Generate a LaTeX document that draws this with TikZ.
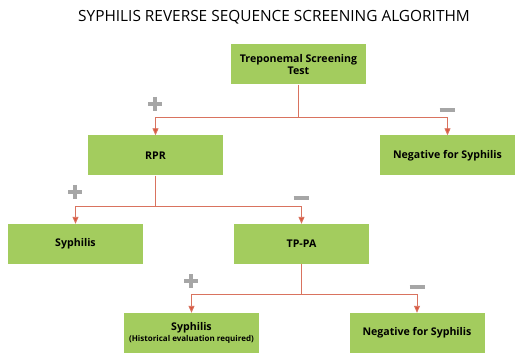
\documentclass[tikz,border=0pt]{standalone}
\usepackage{fontspec}
\setmainfont{Open Sans}
\usetikzlibrary{arrows.meta,calc}
\definecolor{boxgreen}{HTML}{A3CC5E}
\definecolor{linered}{HTML}{D9735F}
\definecolor{arrred}{HTML}{D9573F}
\definecolor{signgray}{HTML}{A6A6A6}
\tikzset{
  box/.style={fill=boxgreen, draw=none, minimum width=135pt, minimum height=40pt, inner sep=0pt, align=center, font=\bfseries\fontsize{10.6}{12}\selectfont, text=black},
  conn/.style={draw=linered, line width=0.9pt},
  arr/.style={conn, -{Triangle[length=7pt,width=6pt,fill=arrred]}},
  sign/.style={draw=signgray, line width=3.5pt}
}
\newcommand{\plussign}[1]{\draw[sign] ($(#1)+(-7,0)$) -- ($(#1)+(7,0)$); \draw[sign] ($(#1)+(0,-7)$) -- ($(#1)+(0,7)$);}
\newcommand{\minussign}[1]{\draw[sign] ($(#1)+(-7.5,0)$) -- ($(#1)+(7.5,0)$);}
\begin{document}
\begin{tikzpicture}[x=1pt,y=-1pt]
\path[fill=white] (0,0) rectangle (523,361);
\useasboundingbox (0,0) rectangle (523,361);
\node (title) at (274,17) {\fontsize{15.4}{17}\selectfont SYPHILIS REVERSE SEQUENCE SCREENING ALGORITHM};
\node[box] (tst) at (298.5,64.5) {Treponemal Screening\\Test};
\node[box] (rpr) at (155.5,155.5) {RPR};
\node[box] (neg1) at (447.5,155.5) {Negative for Syphilis};
\node[box] (syp) at (75.5,244) {Syphilis};
\node[box] (tppa) at (301.5,244) {TP-PA};
\node[box, font=\bfseries\fontsize{10.6}{11}\selectfont] (syp2) at (191.5,333) {Syphilis\\{\fontsize{8}{9}\selectfont (Historical evaluation required)}};
\node[box] (neg2) at (417,333) {Negative for Syphilis};
\coordinate (j1) at (298.5,117);
\coordinate (j2) at (155.5,206);
\coordinate (j3) at (301.5,294);
\draw[conn] (tst.south) -- (j1);
\draw[arr] (j1) -| (rpr.north);
\draw[arr] (j1) -| (neg1.north);
\draw[conn] (rpr.south) -- (j2);
\draw[arr] (j2) -| (syp.north);
\draw[arr] (j2) -| (tppa.north);
\draw[conn] (tppa.south) -- (j3);
\draw[arr] (j3) -| (syp2.north);
\draw[arr] (j3) -| (neg2.north);
\coordinate (p1) at (155,104);
\coordinate (m1) at (447,110);
\coordinate (p2) at (75,192);
\coordinate (m2) at (301,198);
\coordinate (p3) at (191,281);
\coordinate (m3) at (417,287);
\plussign{p1}\minussign{m1}
\plussign{p2}\minussign{m2}
\plussign{p3}\minussign{m3}
\end{tikzpicture}
\end{document}
